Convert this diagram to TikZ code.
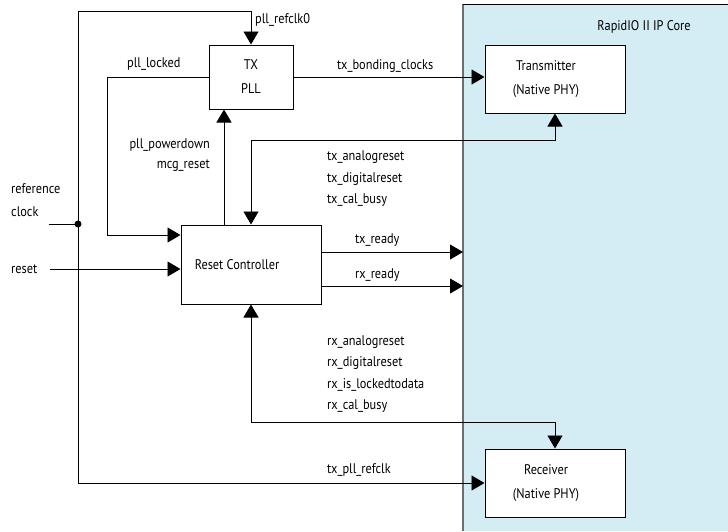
\documentclass[tikz,border=0pt]{standalone}
\usepackage{fontspec}
\setmainfont{PT Sans}[FakeStretch=0.88]
\usetikzlibrary{arrows.meta, positioning, calc}
\definecolor{corefill}{HTML}{D4ECF3}
\definecolor{coreedge}{HTML}{6E6E6E}

\begin{document}
\begin{tikzpicture}[x=1pt, y=-1pt, font=\fontsize{14}{21.5}\selectfont,
    blk/.style={draw, line width=1pt, fill=white, minimum width=140pt,
                minimum height=68pt, align=center, inner sep=0pt,
                font=\fontsize{14}{24}\selectfont},
    wire/.style={line width=0.9pt},
    arr/.style={wire, -{Triangle[length=13pt, width=15pt]}},
    arrs/.style={wire, {Triangle[length=13pt, width=15pt]}-{Triangle[length=13pt, width=15pt]}},
    sig/.style={inner sep=0pt, anchor=west, align=left}]
  \useasboundingbox (0,0) rectangle (728,531);

  % IP core region
  \fill[corefill] (463,4) rectangle (728,531);
  \draw[coreedge, line width=2.2pt] (463,531) -- (463,4);
  \draw[line width=1pt] (463,4) -- (728,4);
  \node (core) at (644,27) {RapidIO II IP Core};
  \coordinate (coreL) at (463,0);

  % blocks
  \node[blk, minimum width=84pt, minimum height=64pt] (pll) at (251,77) {TX\\PLL};
  \node[blk] (tx) at (555,79) {Transmitter\hspace*{18pt}\\(Native PHY)\hspace*{18pt}};
  \node[blk] (rx) at (555,483) {Receiver\hspace*{18pt}\\(Native PHY)\hspace*{18pt}};
  \node[blk, minimum height=79pt] (rc) at (251,264.5) {Reset Controller\hspace*{28pt}};

  % helper points
  \coordinate (refin) at (49,224);
  \coordinate (dot) at (78,224);
  \coordinate (top) at (78,11);
  \coordinate (rstin) at (50,269);
  \coordinate (lockx) at (107,0);
  \coordinate (lockin) at (0,235);
  \coordinate (pdx) at (224,0);
  \coordinate (txbus) at (0,140);
  \coordinate (rxbus) at (0,422);
  \coordinate (txrdy) at (0,252);
  \coordinate (rxrdy) at (0,286);

  % clock and reset inputs
  \draw[wire] (refin) -- (dot);
  \fill (dot) circle (3.5pt);
  \draw[arr] (dot) -- (top) -| (pll.north);
  \draw[arr] (dot) |- (rx.west);
  \draw[arr] (rstin) -- (rc.west |- rstin);

  % pll <-> reset controller
  \draw[arr] (pll.west) -| (lockx |- lockin) -- (rc.west |- lockin);
  \draw[arr] (rc.north -| pdx) -- (pll.south -| pdx);
  \draw[arr] (pll.east) -- (pll.east -| tx.west);

  % reset controller <-> PHY
  \draw[arrs] (rc.north) -- (rc.north |- txbus) -| (tx.south);
  \draw[arrs] (rc.south) -- (rc.south |- rxbus) -| (rx.north);
  \draw[arr] (rc.east |- txrdy) -- (coreL |- txrdy);
  \draw[arr] (rc.east |- rxrdy) -- (coreL |- rxrdy);

  % signal names
  \node[sig] (lrefclk) at (255,20) {pll\_refclk0};
  \node[sig] (llocked) at (127,64) {pll\_locked};
  \node[sig] (lbond) at (337,66) {tx\_bonding\_clocks};
  \node[inner sep=0pt, anchor=east, align=right,
        font=\fontsize{14}{20}\selectfont] (lpd) at (210,155) {pll\_powerdown\\mcg\_reset};
  \node[sig] (ltxrst) at (327,179) {tx\_analogreset\\tx\_digitalreset\\tx\_cal\_busy};
  \node[sig] (ltxrdy) at (355,240) {tx\_ready};
  \node[sig] (lrxrdy) at (355,275) {rx\_ready};
  \node[sig] (lrxrst) at (327,374) {rx\_analogreset\\rx\_digitalreset\\rx\_is\_lockedtodata\\rx\_cal\_busy};
  \node[sig] (lpllref) at (327,470) {tx\_pll\_refclk};
  \node[sig, font=\fontsize{14}{23}\selectfont] (lref) at (11,200) {reference\\clock};
  \node[sig] (lreset) at (11,269) {reset};
\end{tikzpicture}
\end{document}
